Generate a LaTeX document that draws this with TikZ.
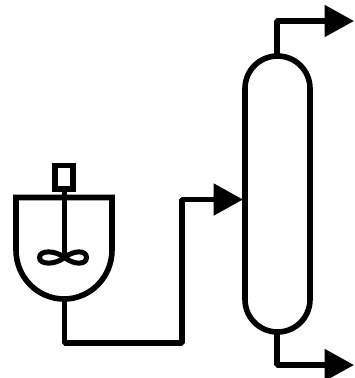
\documentclass[tikz,border=0pt]{standalone}
\usetikzlibrary{arrows.meta}
\tikzset{
  x=1pt,y=-1pt,
  vessel/.style={line width=5.6pt,draw=black},
  pipe/.style={line width=5.4pt,draw=black,line join=bevel},
  flow/.style={pipe,-{Triangle[length=29.5pt,width=31pt]}}
}
\begin{document}
\begin{tikzpicture}
\useasboundingbox (0,0) rectangle (354,378);
% column
\draw[vessel] (245,88.5) arc[start angle=180,end angle=0,x radius=32.5,y radius=-32.5]
  -- (310,299.5) arc[start angle=0,end angle=-180,x radius=32.5,y radius=-32.5] -- cycle;
\coordinate (coltop) at (277,56);
\coordinate (colbot) at (277,332);
\coordinate (colin) at (243,199.5);
\coordinate (bendA) at (277,21);
\coordinate (outA) at (354,21);
\coordinate (bendB) at (277,365);
\coordinate (outB) at (354,365);
% reactor
\draw[vessel] (16,197.5) -- (112,197.5) -- (112,250)
  arc[start angle=0,end angle=-180,x radius=48,y radius=-49] -- (16,197.5) -- cycle;
\draw[vessel,fill=white] (55,165.5) rectangle (73,189);
\coordinate (shafttop) at (64.5,189);
\coordinate (hub) at (64.5,257.5);
\coordinate (reactbot) at (64.5,299);
\coordinate (bendC) at (64.5,343);
\coordinate (bendD) at (182,343);
\coordinate (bendE) at (182,199.5);
\draw[line width=5.2pt] (shafttop) -- (hub);
% impeller
\draw[line width=5pt] (hub) .. controls (55,250) and (39.5,250) .. (39.5,257.5)
  .. controls (39.5,265) and (55,265) .. (hub)
  .. controls (74,250) and (86.5,250) .. (86.5,257.5)
  .. controls (86.5,265) and (74,265) .. (hub);
% pipes
\draw[flow] (reactbot) -- (bendC) -- (bendD) -- (bendE) -- (colin);
\draw[flow] (coltop) -- (bendA) -- (outA);
\draw[flow] (colbot) -- (bendB) -- (outB);
\end{tikzpicture}
\end{document}
